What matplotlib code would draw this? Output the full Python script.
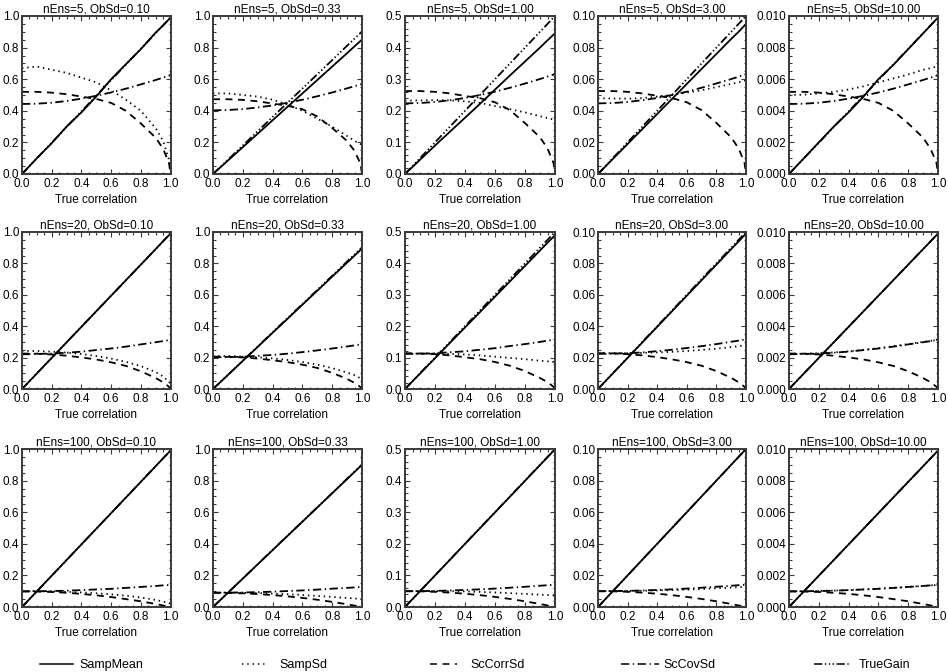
import matplotlib
matplotlib.use("Agg")
import matplotlib.pyplot as plt
from matplotlib.lines import Line2D
from matplotlib.ticker import MultipleLocator, AutoMinorLocator, FormatStrFormatter

plt.rcParams['font.family'] = ['Liberation Sans', 'DejaVu Sans']
plt.rcParams['lines.scale_dashes'] = False

# ---------------- data ----------------
RHO = [0.0, 0.1, 0.2, 0.3, 0.4, 0.5, 0.6, 0.7, 0.8, 0.9, 0.95, 0.99, 1.0]
N_ENS = [5, 20, 100]
OBS_SD = [0.10, 0.33, 1.00, 3.00, 10.00]
Y_MAX = [1.0, 1.0, 0.5, 0.1, 0.01]
Y_STEP = [0.2, 0.2, 0.1, 0.02, 0.002]
Y_DEC = [1, 1, 1, 2, 3]
Y_MINOR = [4, 4, 5, 4, 4]
X_TICKS = [0.0, 0.2, 0.4, 0.6, 0.8, 1.0]
SERIES = ["SampMean", "SampSd", "ScCorrSd", "ScCovSd", "TrueGain"]

TRUE_GAIN = [
    [0, .099, .198, .297, .396, .495, .594, .693, .792, .891, .941, .980, .990],
    [0, .090, .180, .271, .361, .451, .541, .631, .721, .812, .857, .893, .902],
    [0, .05, .10, .15, .20, .25, .30, .35, .40, .45, .475, .495, .50],
    [0, .01, .02, .03, .04, .05, .06, .07, .08, .09, .095, .099, .10],
    [0, .00099, .00198, .00297, .00396, .00495, .00594, .00693, .00792, .00891, .00941, .0098, .0099],
]

SAMP_MEAN_N5 = [
    [0, .10, .195, .30, .39, .49, .60, .695, .79, .895, .94, .98, .99],
    [0, .085, .17, .255, .34, .425, .51, .595, .68, .765, .808, .842, .85],
    [0, .045, .09, .134, .178, .222, .267, .312, .356, .40, .423, .441, .445],
    [0, .0095, .019, .0285, .038, .0475, .057, .0665, .076, .0855, .090, .094, .095],
    [0, .001, .002, .003, .0039, .0049, .006, .0069, .0079, .0089, .0094, .0098, .0099],
]
SAMP_MEAN_N20 = [
    [0, .099, .198, .297, .396, .495, .594, .693, .792, .891, .941, .980, .990],
    [0, .089, .179, .268, .358, .447, .537, .626, .716, .805, .850, .886, .895],
    [0, .049, .098, .147, .196, .245, .294, .343, .392, .441, .466, .485, .49],
    [0, .0099, .0198, .0297, .0396, .0495, .0594, .0693, .0792, .0891, .094, .098, .099],
    [0, .00099, .00198, .00297, .00396, .00495, .00594, .00693, .00792, .00891, .0094, .0098, .0099],
]
SAMP_MEAN_N100 = [
    [0, .099, .198, .297, .396, .495, .594, .693, .792, .891, .941, .980, .990],
    [0, .090, .180, .270, .360, .450, .540, .630, .720, .810, .855, .891, .900],
    [0, .050, .0998, .1497, .1996, .2495, .2994, .3493, .3992, .4491, .474, .494, .499],
    [0, .01, .02, .03, .04, .05, .06, .07, .08, .09, .095, .099, .10],
    [0, .00099, .00198, .00297, .00396, .00495, .00594, .00693, .00792, .00891, .0094, .0098, .0099],
]

SAMP_SD_N5 = [
    [0.67, 0.68, 0.66, 0.64, 0.61, 0.58, 0.53, 0.47, 0.40, 0.29, 0.21, 0.09, 0.02],
    [0.51, 0.51, 0.50, 0.49, 0.47, 0.44, 0.40, 0.35, 0.30, 0.24, 0.21, 0.19, 0.185],
    [0.232, 0.233, 0.234, 0.233, 0.23, 0.225, 0.215, 0.205, 0.195, 0.183, 0.177, 0.172, 0.17],
    [0.048, 0.0478, 0.0477, 0.048, 0.049, 0.050, 0.0515, 0.053, 0.055, 0.057, 0.058, 0.059, 0.059],
    [0.0050, 0.00502, 0.0051, 0.0052, 0.00535, 0.00555, 0.0058, 0.00605, 0.0063, 0.0066, 0.0067, 0.0068, 0.0068],
]
SAMP_SD_N20 = [
    [0.243, 0.242, 0.238, 0.232, 0.223, 0.21, 0.194, 0.173, 0.146, 0.108, 0.08, 0.045, 0.03],
    [0.21, 0.21, 0.207, 0.202, 0.195, 0.185, 0.172, 0.155, 0.133, 0.105, 0.088, 0.068, 0.062],
    [0.113, 0.113, 0.113, 0.112, 0.11, 0.107, 0.103, 0.099, 0.095, 0.09, 0.088, 0.086, 0.085],
    [0.0228, 0.0228, 0.0229, 0.023, 0.0233, 0.0237, 0.0242, 0.0249, 0.0257, 0.0267, 0.0273, 0.0279, 0.028],
    [0.00224, 0.00225, 0.00228, 0.00233, 0.0024, 0.0025, 0.0026, 0.00272, 0.00286, 0.003, 0.00307, 0.00314, 0.00315],
]
SAMP_SD_N100 = [
    [0.101, 0.1, 0.099, 0.096, 0.092, 0.087, 0.08, 0.072, 0.06, 0.045, 0.034, 0.024, 0.022],
    [0.091, 0.091, 0.09, 0.088, 0.085, 0.081, 0.076, 0.07, 0.064, 0.057, 0.054, 0.051, 0.05],
    [0.0503, 0.0503, 0.0502, 0.05, 0.0492, 0.0478, 0.046, 0.0438, 0.0415, 0.039, 0.0378, 0.0367, 0.0365],
    [0.0101, 0.0101, 0.0102, 0.0103, 0.0105, 0.0107, 0.011, 0.0114, 0.0118, 0.0123, 0.0125, 0.0127, 0.0128],
    [0.001, 0.001, 0.00102, 0.00104, 0.00107, 0.00111, 0.00116, 0.00121, 0.00127, 0.00133, 0.00137, 0.0014, 0.0014],
]

SC_CORR_SD_N5 = [
    [0.52, 0.52, 0.515, 0.505, 0.49, 0.475, 0.45, 0.40, 0.32, 0.23, 0.16, 0.07, 0.0],
    [0.473, 0.473, 0.469, 0.46, 0.446, 0.432, 0.41, 0.364, 0.291, 0.209, 0.146, 0.064, 0.0],
    [0.2625, 0.2625, 0.26, 0.255, 0.247, 0.24, 0.227, 0.202, 0.161, 0.116, 0.081, 0.035, 0.0],
    [0.0525, 0.0525, 0.052, 0.051, 0.0495, 0.048, 0.0454, 0.0404, 0.0323, 0.0232, 0.0162, 0.0071, 0.0],
    [0.0052, 0.0052, 0.00515, 0.00505, 0.0049, 0.00475, 0.0045, 0.004, 0.0032, 0.0023, 0.0016, 0.0007, 0.0],
]
SC_CORR_SD_N20 = [
    [0.226, 0.225, 0.220, 0.212, 0.201, 0.188, 0.170, 0.147, 0.113, 0.070, 0.043, 0.014, 0.0],
    [0.206, 0.205, 0.201, 0.194, 0.183, 0.171, 0.155, 0.134, 0.103, 0.064, 0.039, 0.012, 0.0],
    [0.114, 0.113, 0.111, 0.107, 0.101, 0.095, 0.086, 0.074, 0.057, 0.035, 0.022, 0.007, 0.0],
    [0.0228, 0.0227, 0.0222, 0.0214, 0.0203, 0.0189, 0.0171, 0.0148, 0.0114, 0.0071, 0.0043, 0.0014, 0.0],
    [0.00226, 0.00225, 0.0022, 0.00212, 0.00201, 0.00188, 0.0017, 0.00147, 0.00113, 0.0007, 0.00043, 0.00014, 0.0],
]
SC_CORR_SD_N100 = [
    [0.099, 0.098, 0.095, 0.09, 0.083, 0.074, 0.063, 0.05, 0.036, 0.019, 0.0097, 0.002, 0.0],
    [0.09, 0.089, 0.0865, 0.082, 0.0755, 0.0675, 0.0575, 0.046, 0.0325, 0.017, 0.0088, 0.0018, 0.0],
    [0.05, 0.0495, 0.048, 0.0455, 0.042, 0.0375, 0.032, 0.0255, 0.018, 0.0095, 0.0049, 0.001, 0.0],
    [0.01, 0.0099, 0.0096, 0.0091, 0.0084, 0.0075, 0.0064, 0.0051, 0.0036, 0.0019, 0.00098, 0.0002, 0.0],
    [0.00099, 0.00098, 0.00095, 0.0009, 0.00083, 0.00074, 0.00063, 0.0005, 0.00036, 0.00019, 0.0001, 0.00002, 0.0],
]

SC_COV_SD_N5 = [
    [0.443, 0.445, 0.451, 0.462, 0.477, 0.495, 0.516, 0.540, 0.567, 0.595, 0.610, 0.623, 0.626],
    [0.403, 0.405, 0.411, 0.421, 0.434, 0.451, 0.470, 0.492, 0.516, 0.542, 0.556, 0.567, 0.570],
    [0.2235, 0.2246, 0.228, 0.2333, 0.2407, 0.2499, 0.2606, 0.2729, 0.2863, 0.3006, 0.3082, 0.3145, 0.3161],
    [0.0447, 0.0449, 0.0456, 0.0467, 0.0481, 0.05, 0.0521, 0.0546, 0.0573, 0.0601, 0.0616, 0.0629, 0.0632],
    [0.00443, 0.00445, 0.00451, 0.00462, 0.00477, 0.00495, 0.00516, 0.0054, 0.00567, 0.00595, 0.0061, 0.00623, 0.00626],
]
SC_COV_SD_N20 = [
    [0.221, 0.223, 0.226, 0.231, 0.238, 0.248, 0.258, 0.270, 0.284, 0.298, 0.305, 0.312, 0.313],
    [0.202, 0.203, 0.206, 0.211, 0.217, 0.225, 0.235, 0.246, 0.258, 0.271, 0.278, 0.284, 0.285],
    [0.112, 0.112, 0.114, 0.117, 0.120, 0.125, 0.130, 0.137, 0.143, 0.150, 0.154, 0.157, 0.158],
    [0.0224, 0.0225, 0.0228, 0.0233, 0.0241, 0.025, 0.0261, 0.0273, 0.0286, 0.0301, 0.0308, 0.0315, 0.0316],
    [0.00221, 0.00223, 0.00226, 0.00231, 0.00238, 0.00248, 0.00258, 0.0027, 0.00284, 0.00298, 0.00305, 0.00312, 0.00313],
]
SC_COV_SD_N100 = [
    [0.099, 0.0995, 0.101, 0.103, 0.107, 0.111, 0.115, 0.121, 0.127, 0.133, 0.137, 0.139, 0.140],
    [0.090, 0.091, 0.092, 0.094, 0.097, 0.101, 0.105, 0.110, 0.116, 0.121, 0.124, 0.127, 0.128],
    [0.05, 0.0503, 0.051, 0.0522, 0.0539, 0.0559, 0.0583, 0.061, 0.064, 0.0673, 0.0689, 0.0704, 0.0707],
    [0.01, 0.01005, 0.0102, 0.01044, 0.01077, 0.01118, 0.01166, 0.01221, 0.01281, 0.01345, 0.01379, 0.01407, 0.01414],
    [0.00099, 0.000995, 0.00101, 0.00103, 0.00107, 0.00111, 0.00115, 0.00121, 0.00127, 0.00133, 0.00137, 0.00139, 0.0014],
]

SAMP_MEAN = {5: SAMP_MEAN_N5, 20: SAMP_MEAN_N20, 100: SAMP_MEAN_N100}
SAMP_SD = {5: SAMP_SD_N5, 20: SAMP_SD_N20, 100: SAMP_SD_N100}
SC_CORR_SD = {5: SC_CORR_SD_N5, 20: SC_CORR_SD_N20, 100: SC_CORR_SD_N100}
SC_COV_SD = {5: SC_COV_SD_N5, 20: SC_COV_SD_N20, 100: SC_COV_SD_N100}

# ---------------- styles ----------------
STYLES = {
    "SampMean": dict(linestyle='-'),
    "SampSd": dict(linestyle=(0, (1.0, 2.8))),
    "ScCorrSd": dict(linestyle=(0, (5.0, 4.0))),
    "ScCovSd": dict(linestyle=(0, (6.0, 2.5, 1.0, 2.5))),
    "TrueGain": dict(linestyle=(0, (6.0, 1.8, 1.0, 1.8, 1.0, 1.8, 1.0, 1.8))),
}
LW = 1.3
FRAME = '#3a3a3a'
FS = 8.5
LEG_FS = 9

W, H = 948, 672
fig = plt.figure(figsize=(W / 100, H / 100), dpi=100)

COL_LEFT = [22, 213, 405, 598, 789]
COL_W = [148.5, 149, 150, 148, 149]
ROW_TOP = [16, 232, 449]
ROW_H = [158, 157, 158]

for r, n in enumerate(N_ENS):
    for c, sd in enumerate(OBS_SD):
        ax = fig.add_axes([COL_LEFT[c] / W, 1 - (ROW_TOP[r] + ROW_H[r]) / H,
                           COL_W[c] / W, ROW_H[r] / H])
        data = {
            "SampMean": SAMP_MEAN[n][c],
            "SampSd": SAMP_SD[n][c],
            "ScCorrSd": SC_CORR_SD[n][c],
            "ScCovSd": SC_COV_SD[n][c],
            "TrueGain": TRUE_GAIN[c],
        }
        for name in SERIES:
            ax.plot(RHO, data[name], color='black', lw=LW, **STYLES[name])
        ax.set_xlim(0, 1)
        ax.set_ylim(0, Y_MAX[c])
        ax.set_xticks(X_TICKS)
        ax.xaxis.set_major_formatter(FormatStrFormatter('%.1f'))
        ax.xaxis.set_minor_locator(AutoMinorLocator(4))
        ax.yaxis.set_major_locator(MultipleLocator(Y_STEP[c]))
        ax.yaxis.set_major_formatter(FormatStrFormatter('%.' + str(Y_DEC[c]) + 'f'))
        ax.yaxis.set_minor_locator(AutoMinorLocator(Y_MINOR[c]))
        ax.tick_params(which='both', direction='in', top=True, right=True,
                       color=FRAME, width=0.8, labelsize=FS)
        ax.tick_params(which='major', length=3.5)
        ax.tick_params(which='minor', length=1.8)
        ax.tick_params(axis='x', pad=3.0)
        ax.tick_params(axis='y', pad=2.0)
        for s in ax.spines.values():
            s.set_color(FRAME)
            s.set_linewidth(1.4)
        ax.set_title(f"nEns={n}, ObSd={sd:.2f}", fontsize=FS, pad=2.5)
        ax.set_xlabel("True correlation", fontsize=FS, labelpad=2.5)

# ---------------- legend ----------------
LEG_X = [40, 242, 430, 621, 814]
LEG_LEN = [33, 23, 27, 38, 35]
LEG_GAP = [6, 14, 13, 4, 10]
LEG_Y = 665
fs_px = LEG_FS * 100 / 72
for name, x0, ln, gap in zip(SERIES, LEG_X, LEG_LEN, LEG_GAP):
    h = Line2D([], [], color='black', lw=1.1, **STYLES[name])
    fig.legend(handles=[h], labels=[name], loc='center left',
               bbox_to_anchor=(x0 / W, 1 - LEG_Y / H), frameon=False,
               fontsize=LEG_FS, handlelength=ln / fs_px, handletextpad=gap / fs_px,
               borderpad=0, borderaxespad=0)

fig.savefig("out.png", dpi=100)
